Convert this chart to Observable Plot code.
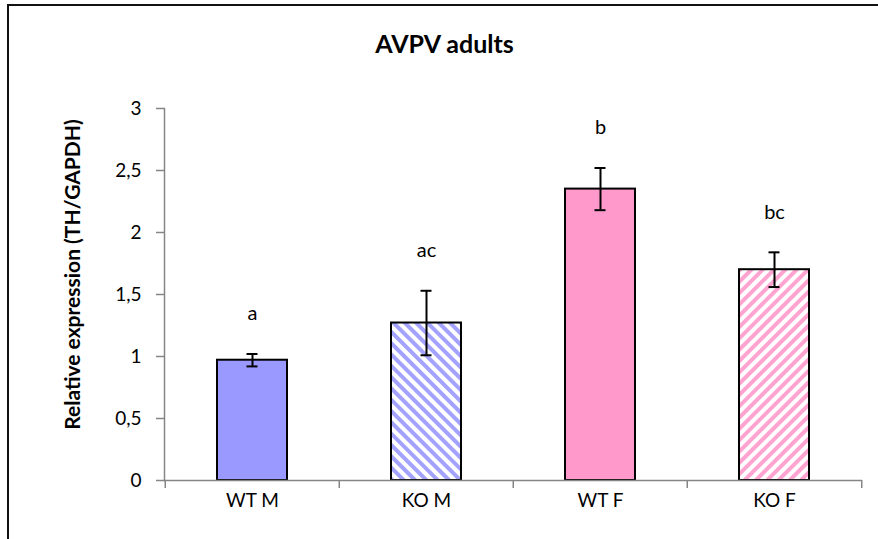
<!DOCTYPE html>
<html>
<head>
<meta charset="utf-8">
<script src="https://cdn.jsdelivr.net/npm/d3@7"></script>
<script src="https://cdn.jsdelivr.net/npm/@observablehq/plot@0.6"></script>
<style>
  html, body { margin: 0; padding: 0; background: #fff; }
  #chart { position: relative; width: 878px; height: 539px; overflow: hidden; }
</style>
</head>
<body>
<div id="chart"></div>
<script>
// Groups, mean relative expression (TH/GAPDH), SEM and significance letters
const categories = ["WT M", "KO M", "WT F", "KO F"];
const means = [0.97, 1.27, 2.35, 1.70];
const errors = [0.05, 0.26, 0.17, 0.14];
const letters = ["a", "ac", "b", "bc"];
const fills = ["#9999ff", "url(#hatch-blue)", "#ff99cc", "url(#hatch-pink)"];
const yTicks = [0, 0.5, 1, 1.5, 2, 2.5, 3];

const data = categories.map((group, i) => ({
  group, mean: means[i], err: errors[i], letter: letters[i]
}));

const W = 878, H = 539;
const mL = 164, mR = 16, mT = 108, mB = 59;
const step = (W - mL - mR) / categories.length;
const axisGray = "#868686";
const comma = d => String(d).replace(".", ",");

const chart = Plot.plot({
  width: W, height: H,
  marginLeft: mL, marginRight: mR, marginTop: mT, marginBottom: mB,
  style: { fontFamily: "Lato, 'Open Sans', sans-serif", background: "white", color: "#000" },
  x: { domain: categories, paddingInner: 0.6, paddingOuter: 0.3, label: null },
  y: { domain: [0, 3], label: null },
  color: { domain: categories, range: fills },
  marks: [
    // bars
    Plot.barY(data, { x: "group", y: "mean", fill: "group", stroke: "#000", strokeWidth: 2 }),
    // axis lines
    Plot.ruleY([0], { stroke: axisGray, strokeWidth: 1.5 }),
    Plot.frame({ anchor: "left", stroke: axisGray, strokeWidth: 1.5 }),
    // y axis ticks and labels
    Plot.axisY({ ticks: yTicks, tickSize: 8, text: null, stroke: axisGray, strokeWidth: 1.5, label: null }),
    Plot.axisY({ ticks: yTicks, tickSize: 0, tickPadding: 23, tickFormat: comma, fontSize: 19, label: null }),
    // x axis: category labels, boundary ticks between bands
    Plot.axisX({ tickSize: 0, tickPadding: 13, fontSize: 19, label: null }),
    Plot.axisX({ tickSize: 8, text: null, dx: -step / 2, stroke: axisGray, strokeWidth: 1.5, label: null }),
    Plot.axisX({ ticks: [categories[categories.length - 1]], tickSize: 8, text: null, dx: step / 2, stroke: axisGray, strokeWidth: 1.5, label: null }),
    // error bars
    Plot.ruleX(data, { x: "group", y1: d => d.mean - d.err, y2: d => d.mean + d.err, stroke: "#000", strokeWidth: 2 }),
    Plot.tickY(data, { x: "group", y: d => d.mean + d.err, insetLeft: 29.5, insetRight: 29.5, stroke: "#000", strokeWidth: 2 }),
    Plot.tickY(data, { x: "group", y: d => d.mean - d.err, insetLeft: 29.5, insetRight: 29.5, stroke: "#000", strokeWidth: 2 }),
    // significance letters
    Plot.text(data, { x: "group", y: d => d.mean + d.err, text: "letter", dy: -40, fontSize: 20, fill: "#000" }),
    // title
    Plot.text(["AVPV adults"], { frameAnchor: "top", text: d => d, lineAnchor: "middle", dx: -69, dy: -64, fontSize: 25, fontWeight: "bold", fill: "#000" }),
    // y axis title
    Plot.text(["Relative expression (TH/GAPDH)"], { frameAnchor: "left", text: d => d, textAnchor: "middle", rotate: -90, dx: -91, dy: -20, fontSize: 21, fontWeight: "bold", fill: "#000" })
  ]
});

const svg = d3.select(chart);
// striped fills for the knockout bars
svg.insert("defs", ":first-child").html(`
  <pattern id="hatch-blue" patternUnits="userSpaceOnUse" width="8" height="8" patternTransform="rotate(-45)">
    <rect width="8" height="8" fill="#ffffff"/>
    <rect width="4" height="8" fill="#a3a3ff"/>
  </pattern>
  <pattern id="hatch-pink" patternUnits="userSpaceOnUse" width="8" height="8" patternTransform="rotate(45)">
    <rect width="8" height="8" fill="#ffffff"/>
    <rect width="4" height="8" fill="#ffa3d1"/>
  </pattern>`);
// chart area border
svg.append("rect")
  .attr("x", 8).attr("y", 5).attr("width", 1000).attr("height", 1000)
  .attr("fill", "none").attr("stroke", "#111").attr("stroke-width", 2);

document.getElementById("chart").appendChild(chart);
</script>
</body>
</html>
